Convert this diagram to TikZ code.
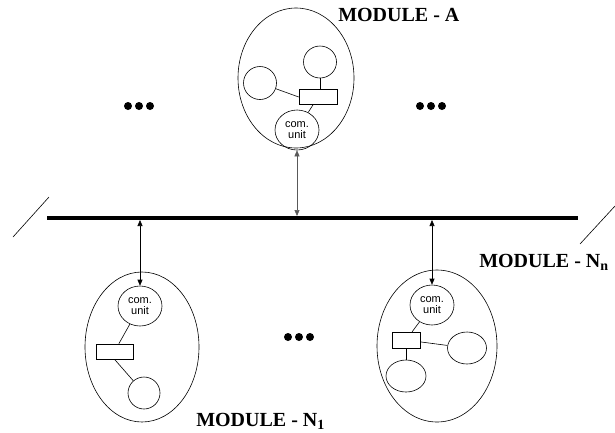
\documentclass[tikz,border=0pt]{standalone}
\usepackage{fontspec}
\setmainfont{Liberation Serif}
\newfontfamily\unitfont{Liberation Sans}
\usetikzlibrary{shapes, arrows.meta, positioning}

\begin{document}
\begin{tikzpicture}[x=1pt, y=-1pt, line width=0.6pt,
	module/.style={draw, ellipse, inner sep=0pt},
	comunit/.style={draw, ellipse, inner sep=0pt, minimum width=44pt, minimum height=40pt,
		align=center, font=\unitfont\fontsize{11}{11.5}\selectfont},
	part/.style={draw, ellipse, inner sep=0pt},
	box/.style={draw, rectangle, inner sep=0pt},
	title/.style={font=\bfseries\fontsize{20}{22}\selectfont, inner sep=0pt},
	link/.style={{Triangle[length=6pt,width=5pt]}-{Triangle[length=6pt,width=5pt]}}]
	\useasboundingbox (0,0) rectangle (615,432);

	% bus
	\coordinate (busL) at (47,218);
	\coordinate (busR) at (578,218);
	\draw[line width=4pt] (busL) -- (busR);
	\draw (13,237) -- (49,197);
	\draw (580,244) -- (615,206);

	% module A
	\node[module, minimum width=116pt, minimum height=140pt] (modA) at (296,78) {};
	\node[comunit] (cuA) at (297,130) {com.\\unit};
	\node[box, minimum width=38pt, minimum height=15pt] (rectA) at (318,97) {};
	\node[part, minimum width=33pt, minimum height=33pt] (leftA) at (260,83) {};
	\node[part, minimum width=33pt, minimum height=32pt] (topA) at (320,62) {};
	\draw (leftA) -- (rectA.west);
	\draw (topA) -- (topA |- rectA.north);
	\draw (rectA) -- (cuA);
	\draw[link, shorten <=2pt, black!65] (cuA |- busL) -- (cuA);
	\node[title, anchor=west] at (338,15) {MODULE - A};

	% module N1
	\node[module, minimum width=114pt, minimum height=150pt] (modL) at (142,347) {};
	\node[comunit] (cuL) at (140,306) {com.\\unit};
	\node[box, minimum width=37pt, minimum height=15pt] (rectL) at (114.5,351.5) {};
	\node[part, minimum width=32pt, minimum height=32pt] (botL) at (144,393) {};
	\draw (cuL) -- (rectL);
	\draw (rectL.south) -- (botL);
	\draw[link, shorten <=2pt] (cuL |- busL) -- (cuL);
	\node[title, anchor=west] at (196,421) {MODULE - N\textsubscript{1}};

	% module Nn
	\node[module, minimum width=120pt, minimum height=152pt] (modR) at (437,346) {};
	\node[comunit] (cuR) at (432,305) {com.\\unit};
	\node[box, minimum width=28pt, minimum height=16pt] (rectR) at (406,340) {};
	\node[part, minimum width=39pt, minimum height=32pt] (rightR) at (467,348) {};
	\node[part, minimum width=40pt, minimum height=32pt] (botR) at (406,376) {};
	\draw (cuR) -- (rectR);
	\draw (rectR) -- (rightR);
	\draw (rectR.south) -- (rectR.south |- botR.north);
	\draw[link, shorten <=2pt] (cuR |- busL) -- (cuR);
	\node[title, anchor=west] at (479,262) {MODULE - N\textsubscript{n}};

	% dots
	\foreach \x in {128,139,150,420,431,442}
		\fill (\x,106) circle (4pt);
	\foreach \x in {288,299,310}
		\fill (\x,337) circle (4pt);
\end{tikzpicture}
\end{document}
